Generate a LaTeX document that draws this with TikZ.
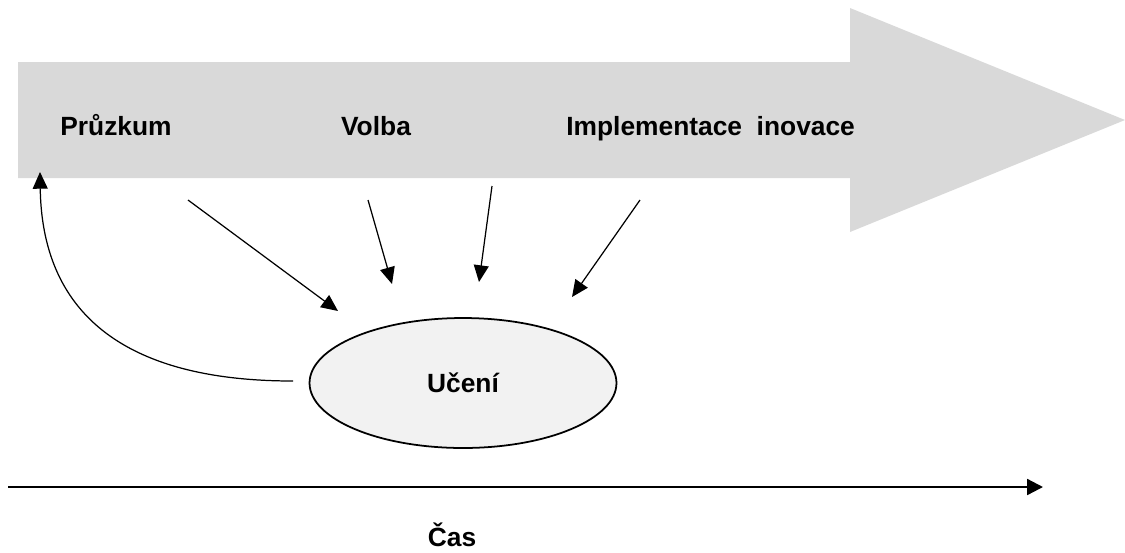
\documentclass[tikz,border=0pt]{standalone}
\usepackage{fontspec}
\setmainfont{Liberation Sans}
\usetikzlibrary{arrows.meta,shapes.geometric}
\definecolor{bandgray}{RGB}{217,217,217}
\definecolor{ovalgray}{RGB}{242,242,242}

\begin{document}
\begin{tikzpicture}[x=0.02cm,y=-0.02cm,
		phase/.style={font=\bfseries\fontsize{15}{17}\selectfont,inner sep=0pt},
		link/.style={line width=0.7pt,-{Triangle[length=9.5pt,width=8.5pt]}}]
		\useasboundingbox (0,0) rectangle (1125,552);
		% big process arrow
		\fill[bandgray] (18,62)--(850,62)--(850,8)--(1125,120)--(850,232)--(850,178)--(18,178)--cycle;
		\node[phase,anchor=base] (pruzkum) at (116,135) {Průzkum};
		\node[phase,anchor=base] (volba) at (376,135) {Volba};
		\node[phase,anchor=base west] (impl) at (566,135) {Implementace\ \ inovace};
		% learning
		\node[ellipse,draw,line width=1pt,fill=ovalgray,minimum width=6.14cm,minimum height=2.6cm,
			phase] (uceni) at (463,383) {Učení};
		\coordinate (s1) at (188,200); \coordinate (e1) at (338,311);
		\coordinate (s2) at (368,200); \coordinate (e2) at (392,284);
		\coordinate (s3) at (492,186); \coordinate (e3) at (479,282);
		\coordinate (s4) at (640,200); \coordinate (e4) at (572,297);
		\foreach \i in {1,2,3,4}
			\draw[link] (s\i)--(e\i);
		\coordinate (fbs) at (293,381);
		\coordinate (fbe) at (40,172);
		\draw[link] (fbs) .. controls (120,381) and (42,310) .. (fbe);
		% time axis
		\coordinate (t0) at (8,487);
		\coordinate (t1) at (1043,487);
		\draw[line width=1.3pt,-{Triangle[length=9pt,width=9pt]}] (t0)--(t1);
		\node[phase,anchor=base] (cas) at (452,546) {Čas};
	\end{tikzpicture}
\end{document}
